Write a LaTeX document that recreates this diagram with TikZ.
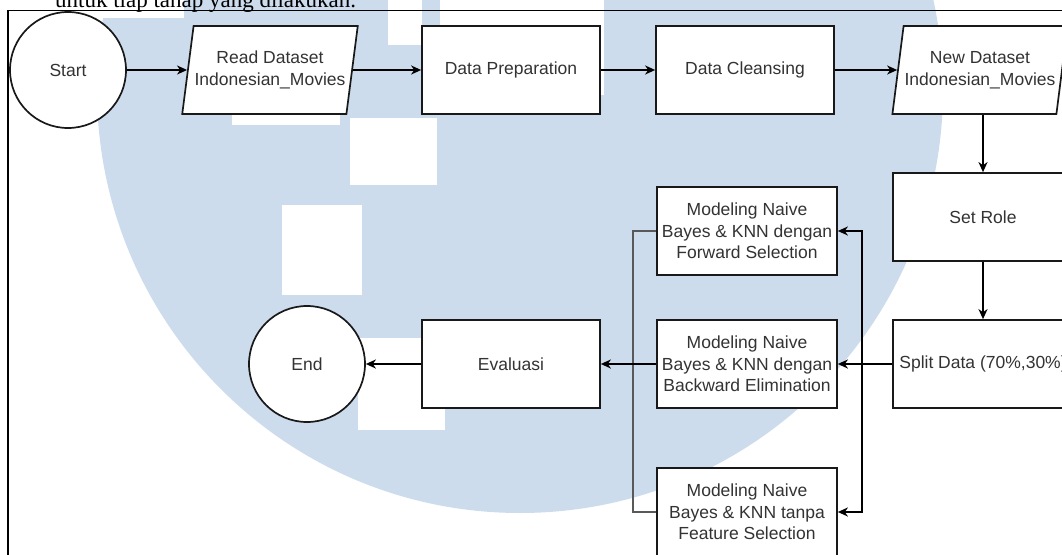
\documentclass[tikz,border=0pt]{standalone}
\usepackage{fontspec}
\setmainfont{Liberation Serif}
\newfontfamily\drawiofont{Liberation Sans}
\usetikzlibrary{arrows.meta,shapes.geometric}
\definecolor{wmarkcolor}{RGB}{205,220,237}
\definecolor{textcolor}{RGB}{51,51,51}
\tikzset{
  fc base/.style={
    draw=black!90,
    fill=white,
    line width=1.7pt,
    text=textcolor,
    align=center,
    inner sep=1pt,
    font=\drawiofont\fontsize{17.5}{21.5}\selectfont
  },
  fc box/.style={
    fc base,
    rectangle,
    minimum width=178pt,
    minimum height=88pt
  },
  fc io/.style={
    fc base,
    trapezium,
    trapezium left angle=74,
    trapezium right angle=106,
    trapezium stretches body,
    minimum width=150pt,
    minimum height=88pt
  },
  fc term/.style={
    fc base,
    circle,
    minimum size=116pt
  },
  arrow/.style={
    -{Stealth[length=10pt,width=9pt,inset=3pt]},
    line width=1.7pt
  },
  join line/.style={
    line width=2pt,
    draw=black!65
  }
}

\begin{document}
\begin{tikzpicture}[x=1pt, y=-1pt]

  \useasboundingbox (0,0) rectangle (1062,554);
  \clip (0,0) rectangle (1062,554);

  % Watermark behind the chart
  \fill[wmarkcolor] (520,90) circle (423pt);
  \fill[white] (100,-5) rectangle (184,18);
  \fill[white] (388,-5) rectangle (422,45);
  \fill[white] (232,60) rectangle (340,125);
  \fill[white] (440,-5) rectangle (604,95);
  \fill[white] (350,118) rectangle (437,185);
  \fill[white] (282,205) rectangle (362,295);
  \fill[white] (358,338) rectangle (445,430);

  % Line of text above the frame
  \node[anchor=base west, inner sep=0pt, font=\fontsize{23}{27}\selectfont] (caption) at (55,7) {untuk tiap tahap yang dilakukan.};

  % Frame
  \draw[line width=1.6pt] (8,600) -- (8,10.5) -- (1100,10.5);

  % Top row
  \node[fc term] (start) at (68,70) {Start};
  \node[fc io] (read) at (270,70) {Read Dataset\\Indonesian\_Movies};
  \node[fc box] (prep) at (511,70) {Data Preparation};
  \node[fc box] (clean) at (745,70) {Data Cleansing};
  \node[fc io] (newds) at (980,70) {New Dataset\\Indonesian\_Movies};

  % Right column
  \node[fc box, minimum width=180pt] (role) at (983,217) {Set Role};
  \node[fc box, minimum width=180pt] (split) at (983,364) {Split Data (70\%,30\%)};

  % Models
  \node[fc box, minimum width=180pt] (fwd) at (747,231) {Modeling Naive\\Bayes \& KNN dengan\\Forward Selection};
  \node[fc box, minimum width=180pt] (bwd) at (747,364) {Modeling Naive\\Bayes \& KNN dengan\\Backward Elimination};
  \node[fc box, minimum width=180pt] (tanpa) at (747,512) {Modeling Naive\\Bayes \& KNN tanpa\\Feature Selection};

  % Bottom row
  \node[fc box] (eval) at (511,364) {Evaluasi};
  \node[fc term] (end) at (307,364) {End};

  % Main flow
  \draw[arrow] (start) -- (start -| read.west);
  \draw[arrow] (read.east) -- (prep);
  \draw[arrow] (prep) -- (clean);
  \draw[arrow] (clean) -- (clean -| newds.west);
  \draw[arrow] (newds.south -| role.north) -- (role);
  \draw[arrow] (role) -- (split);

  % Split to the three models
  \coordinate (fork) at ([xshift=-30pt]split.west);
  \draw[arrow] (split) -- (bwd);
  \draw[arrow] (fork) |- (fwd.east);
  \draw[arrow] (fork) |- (tanpa.east);

  % Models to evaluation
  \coordinate (merge) at ([xshift=-23pt]bwd.west);
  \draw[join line] (fwd.west) -| (merge) |- (tanpa.west);
  \draw[arrow] (bwd) -- (eval);
  \draw[arrow] (eval) -- (end);

\end{tikzpicture}
\end{document}
